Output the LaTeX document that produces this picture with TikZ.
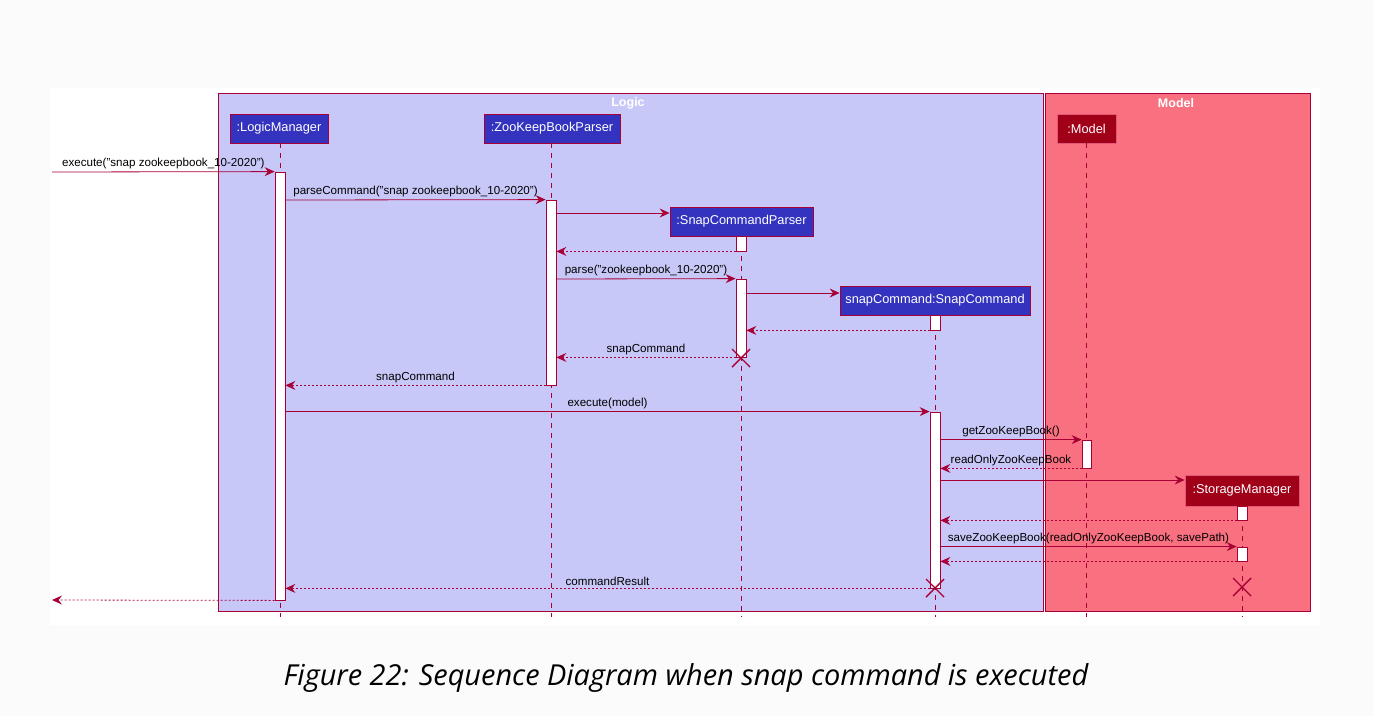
\documentclass[tikz,border=0pt]{standalone}
\usepackage{fontspec}
\setmainfont{Liberation Sans}
\newfontfamily\capfont{Open Sans}
\usetikzlibrary{arrows.meta,calc}
\definecolor{crim}{HTML}{A80036}
\definecolor{logicfill}{RGB}{200,200,248}
\definecolor{modelfill}{RGB}{249,113,129}
\definecolor{partblue}{RGB}{51,51,192}
\definecolor{partred}{RGB}{160,0,24}
\definecolor{partredline}{RGB}{226,90,120}
\definecolor{pagebg}{RGB}{251,251,251}
\tikzset{
  frame/.style={draw=crim, line width=1pt, inner sep=0pt, anchor=north west},
  frametitle/.style={text=white, font=\fontsize{12.5}{14}\selectfont\bfseries, inner sep=0pt},
  partb/.style={draw=crim, line width=0.8pt, fill=partblue, text=white, inner sep=0pt, minimum height=29pt, font=\fontsize{12.8}{14}\selectfont},
  partr/.style={draw=partredline, line width=0.8pt, fill=partred, text=white, inner sep=0pt, minimum height=29pt, font=\fontsize{12.8}{14}\selectfont},
  life/.style={draw=crim, line width=0.8pt, dash pattern=on 5pt off 5pt},
  actbar/.style={draw=crim, line width=0.8pt, fill=white, minimum width=10pt, inner sep=0pt},
  msg/.style={draw=crim, line width=0.8pt, -{Stealth[length=10pt,width=9pt,inset=3.5pt]}},
  ret/.style={msg, dash pattern=on 2pt off 2pt},
  lbl/.style={font=\fontsize{11.6}{13}\selectfont, inner sep=1pt, above=1.5pt, text=black},
  xmark/.style={draw=crim, line width=1.4pt}
}
\begin{document}
\begin{tikzpicture}[x=1pt,y=-1pt]
\fill[pagebg] (0,0) rectangle (1374,716);
\useasboundingbox (0,0) rectangle (1374,716);
\fill[white] (50,88) rectangle (1320,625);

% frames
\node[frame, fill=logicfill, minimum width=825pt, minimum height=518pt] (logic) at (218,93) {};
\node[frame, fill=modelfill, minimum width=265pt, minimum height=518pt] (model) at (1045,93) {};
\node[frametitle] (logict) at (628,103) {Logic};
\node[frametitle] (modelt) at (1176,103) {Model};

% participants
\node[partb, minimum width=98pt] (lm) at (279,128.5) {\raisebox{-1.5pt}{:LogicManager}};
\node[partb, minimum width=136pt] (zp) at (552,128.5) {\raisebox{-1.5pt}{:ZooKeepBookParser}};
\node[partb, minimum width=143pt] (scp) at (741.5,221.5) {\raisebox{-1.5pt}{:SnapCommandParser}};
\node[partb, minimum width=190pt] (sc) at (935,300.5) {\raisebox{-1.5pt}{snapCommand:SnapCommand}};
\node[partr, minimum width=59pt] (mdl) at (1086.5,128.5) {\raisebox{-1.5pt}{:Model}};
\node[partr, minimum width=114pt, minimum height=31pt] (sm) at (1242,490.5) {\raisebox{-1.5pt}{:StorageManager}};

% lifelines
\draw[life] (280,143) -- (280,617);
\draw[life] (551,143) -- (551,617);
\draw[life] (741,236) -- (741,617);
\draw[life] (935,315) -- (935,617);
\draw[life] (1086,143) -- (1086,617);
\draw[life] (1242,506) -- (1242,617);

% activation bars
\node[actbar, minimum height=428pt] (a1) at (280,386) {};
\node[actbar, minimum height=185pt] (a2) at (551,292.5) {};
\node[actbar, minimum height=15pt] (a3) at (741,243.5) {};
\node[actbar, minimum height=78pt] (a4) at (741,318) {};
\node[actbar, minimum height=15pt] (a5) at (935,322.5) {};
\node[actbar, minimum height=176pt] (a6) at (935,500) {};
\node[actbar, minimum width=9pt, minimum height=28pt] (a7) at (1086.5,454) {};
\node[actbar, minimum height=14pt] (a8) at (1242,513) {};
\node[actbar, minimum height=14pt] (a9) at (1242,554) {};

\coordinate (cin) at (52,172);
\coordinate (cout) at (52,600);

% messages
\draw[msg] (cin) -- node[lbl] {execute("snap zookeepbook\_10-2020")} (a1.north west);
\draw[msg] (a1.east |- 0,200) -- node[lbl] {parseCommand("snap zookeepbook\_10-2020")} (a2.north west);
\draw[msg] (a2.east |- 0,213) -- (scp.west |- 0,213);
\draw[ret] (a3.south west) -- (a2.east |- a3.south);
\draw[msg] (a2.east |- 0,279) -- node[lbl] {parse("zookeepbook\_10-2020")} (a4.north west);
\draw[msg] (a4.east |- 0,293) -- (sc.west |- 0,293);
\draw[ret] (a5.south west) -- (a4.east |- a5.south);
\draw[ret] (a4.south west) -- node[lbl] {snapCommand} (a2.east |- a4.south);
\draw[ret] (a2.south west) -- node[lbl] {snapCommand} (a1.east |- a2.south);
\draw[msg] (a1.east |- a6.north) -- node[lbl] {execute(model)} (a6.north west);
\draw[msg] (a6.east |- a7.north) -- node[lbl] {getZooKeepBook()} (a7.north west);
\draw[ret] (a7.south west) -- node[lbl] {readOnlyZooKeepBook} (a6.east |- a7.south);
\draw[msg] (a6.east |- 0,480) -- (sm.west |- 0,480);
\draw[ret] (a8.south west) -- (a6.east |- a8.south);
\draw[msg] (a6.east |- a9.north) -- node[lbl] {saveZooKeepBook(readOnlyZooKeepBook, savePath)} (a9.north west);
\draw[ret] (a9.south west) -- (a6.east |- a9.south);
\draw[ret] (a6.south west) -- node[lbl] {commandResult} (a1.east |- a6.south);
\draw[ret] (a1.south west) -- (cout);

% destroy marks
\draw[xmark] (732,349) -- (750,367) (732,367) -- (750,349);
\draw[xmark] (926,579) -- (944,597) (926,597) -- (944,579);
\draw[xmark] (1233,578) -- (1251,596) (1233,596) -- (1251,578);

% caption
\node[font=\capfont\itshape\fontsize{28.9}{32}\selectfont, text=black, inner sep=0pt] (cap) at (686,678) {Figure 22: Sequence Diagram when snap command is executed};
\end{tikzpicture}
\end{document}
